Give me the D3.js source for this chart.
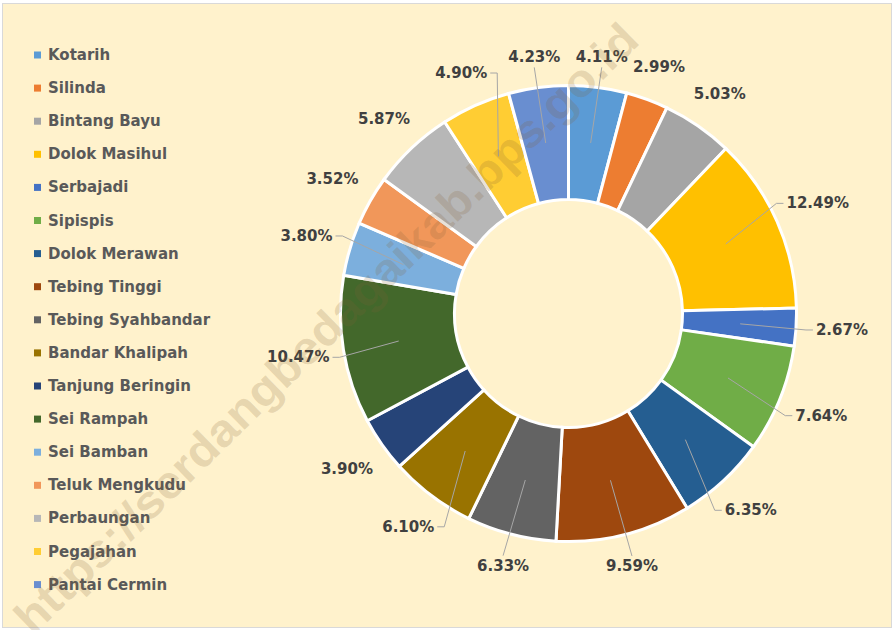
<!DOCTYPE html>
<html>
<head>
<meta charset="utf-8">
<script src="https://cdn.jsdelivr.net/npm/d3@7"></script>
<style>
  body { margin: 0; background: #fff; }
  svg { display: block; }
</style>
</head>
<body>
<svg id="chart"></svg>
<script>
// share of each kecamatan, clockwise from 12 o'clock
const districts = [
  'Kotarih', 'Silinda', 'Bintang Bayu', 'Dolok Masihul', 'Serbajadi', 'Sipispis',
  'Dolok Merawan', 'Tebing Tinggi', 'Tebing Syahbandar', 'Bandar Khalipah',
  'Tanjung Beringin', 'Sei Rampah', 'Sei Bamban', 'Teluk Mengkudu',
  'Perbaungan', 'Pegajahan', 'Pantai Cermin'
]
const shares = [4.11, 2.99, 5.03, 12.49, 2.67, 7.64, 6.35, 9.59, 6.33, 6.10, 3.90, 10.47, 3.80, 3.52, 5.87, 4.90, 4.23]

// labels that Excel draws with a leader line
const withLeader = [
  'Kotarih', 'Dolok Masihul', 'Serbajadi', 'Sipispis', 'Dolok Merawan', 'Tebing Tinggi',
  'Tebing Syahbandar', 'Bandar Khalipah', 'Sei Rampah', 'Sei Bamban', 'Pegajahan', 'Pantai Cermin'
]

const palette = [
  '#5B9BD5', '#ED7D31', '#A5A5A5', '#FFC000', '#4472C4', '#70AD47',
  '#255E91', '#9E480E', '#636363', '#997300', '#264478', '#43682B',
  '#7CAFDD', '#F1975A', '#B7B7B7', '#FFCD33', '#698ED0'
]

const w = 894
const h = 630
const cx = 568.5, cy = 313.5
const font = "'DejaVu Sans', sans-serif"

const svg = d3.select('#chart')
  .attr('width', w)
  .attr('height', h)

// chart area
svg.append('rect')
  .attr('x', 2.5).attr('y', 3.5)
  .attr('width', w - 5).attr('height', h - 6)
  .attr('fill', '#FFF2CC')
  .attr('stroke', '#d9d9d9')

const color = d3.scaleOrdinal().domain(districts).range(palette)

const pie = d3.pie().sort(null).value(d => d.value)
const arcs = pie(districts.map((name, i) => ({ name, value: shares[i] })))

const arc = d3.arc().innerRadius(114).outerRadius(228)

const g = svg.append('g').attr('transform', `translate(${cx},${cy})`)

g.selectAll('path.slice')
  .data(arcs)
  .enter()
  .append('path')
    .attr('class', 'slice')
    .attr('d', arc)
    .attr('fill', d => color(d.data.name))
    .attr('stroke', '#fff')
    .attr('stroke-width', 3)

const mid = d => (d.startAngle + d.endAngle) / 2
const polar = (a, r) => [r * Math.sin(a), -r * Math.cos(a)]
// labels sit a bit further out at the sides, where the text is wide
const labelPos = d => polar(mid(d), 256 + 18 * Math.abs(Math.sin(mid(d))))

// data labels
const labels = g.selectAll('text.lbl')
  .data(arcs)
  .enter()
  .append('text')
    .attr('class', 'lbl')
    .attr('x', d => labelPos(d)[0])
    .attr('y', d => labelPos(d)[1])
    .attr('text-anchor', 'middle')
    .attr('dominant-baseline', 'central')
    .attr('font-family', font)
    .attr('font-weight', 'bold')
    .attr('font-size', 15)
    .attr('fill', '#404040')
    .text(d => d.data.value.toFixed(2) + '%')

// leader lines from inside the slice to the label edge
const leaders = g.insert('g', 'text.lbl')
labels.each(function (d) {
  if (!withLeader.includes(d.data.name)) return
  const b = this.getBBox()
  const [sx, sy] = polar(mid(d), 172)
  const my = b.y + b.height / 2
  let pts
  if (sx < b.x) {
    pts = [[sx, sy], [b.x - 10, my], [b.x - 3, my]]
  } else if (sx > b.x + b.width) {
    pts = [[sx, sy], [b.x + b.width + 10, my], [b.x + b.width + 3, my]]
  } else if (sy < b.y) {
    pts = [[sx, sy], [b.x + b.width / 2, b.y - 1]]
  } else {
    pts = [[sx, sy], [b.x + b.width / 2, b.y + b.height + 1]]
  }
  leaders.append('path')
    .attr('d', d3.line()(pts))
    .attr('fill', 'none')
    .attr('stroke', '#a6a6a6')
    .attr('stroke-width', 1)
})

// legend
const legend = svg.append('g')
const row = legend.selectAll('g')
  .data(districts)
  .enter()
  .append('g')
    .attr('transform', (d, i) => `translate(34, ${55 + i * 33.1})`)

row.append('rect')
  .attr('x', 0).attr('y', -3.5)
  .attr('width', 7).attr('height', 7)
  .attr('fill', d => color(d))

row.append('text')
  .attr('x', 14)
  .attr('dominant-baseline', 'central')
  .attr('font-family', font)
  .attr('font-weight', 'bold')
  .attr('font-size', 15)
  .attr('fill', '#595959')
  .text(d => d)

// watermark across the picture
svg.append('text')
  .attr('transform', 'translate(326,328) rotate(-44.3)')
  .attr('text-anchor', 'middle')
  .attr('dominant-baseline', 'central')
  .attr('font-family', "'Liberation Sans', Arial, sans-serif")
  .attr('font-weight', 'bold')
  .attr('font-size', 46)
  .attr('textLength', 850)
  .attr('lengthAdjust', 'spacingAndGlyphs')
  .attr('fill', 'rgb(130,97,54)')
  .attr('fill-opacity', 0.2)
  .text('https://serdangbedagaikab.bps.go.id')
</script>
</body>
</html>
